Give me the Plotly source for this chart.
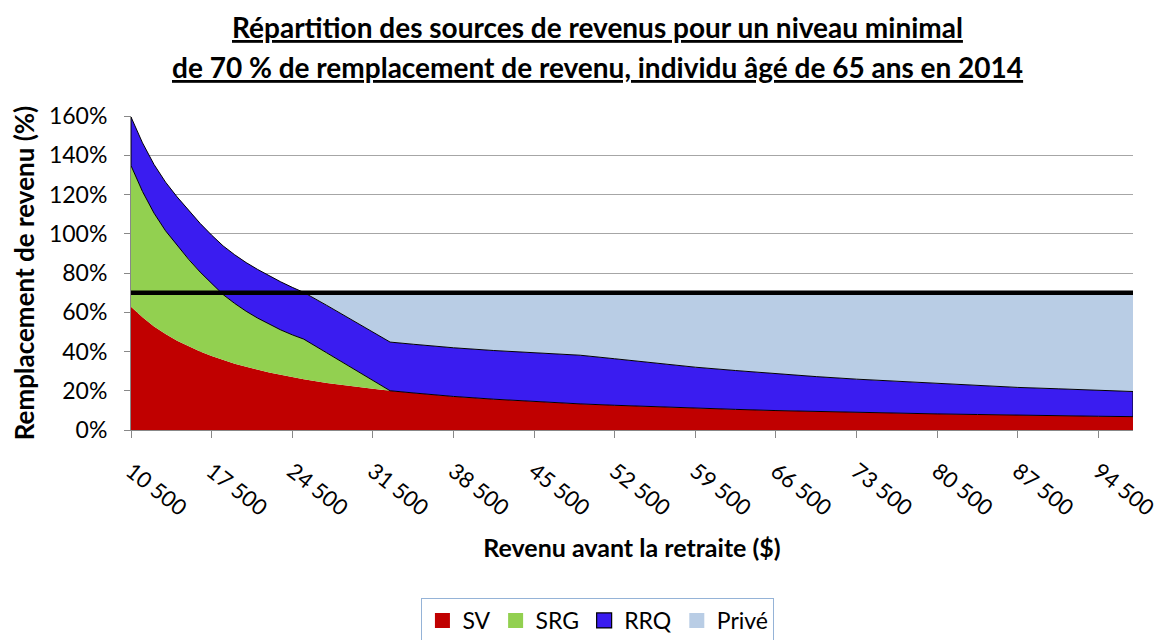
import plotly.graph_objects as go

# Revenu avant la retraite ($)
revenu = [10500, 11500, 12500, 13500, 14500, 15500, 16500, 17500, 18500, 19500,
          20500, 21500, 22500, 23500, 24500, 25500, 27500, 29500, 31500, 33000,
          35000, 38500, 42000, 45500, 49500, 52500, 56000, 59500, 63000, 66500,
          70000, 73500, 77000, 80500, 84000, 87500, 91000, 94500, 97500]

# Remplacement de revenu (%) par source
sv = [62.8, 57.4, 52.8, 48.9, 45.5, 42.6, 40.0, 37.7, 35.7, 33.8,
      32.2, 30.7, 29.3, 28.1, 26.9, 25.9, 24.0, 22.4, 21.0, 20.0,
      18.9, 17.1, 15.7, 14.5, 13.3, 12.6, 11.8, 11.1, 10.5, 9.9,
      9.4, 9.0, 8.6, 8.2, 7.9, 7.5, 7.3, 7.0, 6.8]
srg = [71.9, 64.1, 57.7, 52.6, 48.5, 44.4, 40.5, 36.8, 33.3, 30.7,
       28.3, 26.3, 24.5, 22.9, 21.6, 20.4, 15.3, 9.9, 4.3, 0.0,
       0.0, 0.0, 0.0, 0.0, 0.0, 0.0, 0.0, 0.0, 0.0, 0.0,
       0.0, 0.0, 0.0, 0.0, 0.0, 0.0, 0.0, 0.0, 0.0]
rrq = [24.8, 24.8, 24.8, 24.8, 24.8, 24.8, 24.8, 24.8, 24.8, 24.8,
       24.8, 24.8, 24.8, 24.5, 24.2, 23.8, 24.2, 24.5, 24.8, 24.8,
       24.8, 24.8, 24.8, 24.8, 24.8, 23.7, 22.2, 20.9, 19.8, 18.7,
       17.8, 16.9, 16.2, 15.5, 14.8, 14.2, 13.7, 13.2, 12.8]
prive = [0.0, 0.0, 0.0, 0.0, 0.0, 0.0, 0.0, 0.0, 0.0, 0.0,
         0.0, 0.0, 0.0, 0.0, 0.0, 0.0, 6.5, 13.2, 19.9, 25.2,
         26.3, 28.1, 29.5, 30.7, 31.9, 33.7, 36.0, 38.0, 39.7, 41.4,
         42.8, 44.1, 45.2, 46.3, 47.3, 48.3, 49.0, 49.8, 50.4]

seuil = 70  # niveau minimal de remplacement (%)

series_names = ["SV", "SRG", "RRQ", "Privé"]
series_colors = ["#C00000", "#92D050", "#3A1CF0", "#B9CDE5"]

x_tick_vals = [10500, 17500, 24500, 31500, 38500, 45500, 52500, 59500,
               66500, 73500, 80500, 87500, 94500]
x_tick_labels = ["10 500", "17 500", "24 500", "31 500", "38 500", "45 500",
                 "52 500", "59 500", "66 500", "73 500", "80 500", "87 500",
                 "94 500"]
y_tick_vals = [0, 20, 40, 60, 80, 100, 120, 140, 160]
y_tick_labels = ["0%", "20%", "40%", "60%", "80%", "100%", "120%", "140%", "160%"]

FONT = "Lato, 'Open Sans', sans-serif"

fig = go.Figure()

for name, vals, color in zip(series_names, [sv, srg, rrq, prive], series_colors):
    is_rrq = name == "RRQ"
    fig.add_trace(go.Scatter(
        x=revenu, y=vals, name=name, stackgroup="one", mode="lines",
        line=dict(color="#000000" if is_rrq else color, width=1 if is_rrq else 0),
        fillcolor=color, showlegend=False, hoverinfo="skip",
    ))

# bordure inférieure et latérale de la série RRQ
base_rrq = [a + b for a, b in zip(sv, srg)]
top_rrq = [a + b + c for a, b, c in zip(sv, srg, rrq)]
fig.add_trace(go.Scatter(
    x=[revenu[0]] + revenu + [revenu[-1]],
    y=[top_rrq[0]] + base_rrq + [top_rrq[-1]],
    mode="lines", line=dict(color="#000000", width=1),
    showlegend=False, hoverinfo="skip",
))

# ligne du seuil de 70 %
fig.add_trace(go.Scatter(
    x=[revenu[0], revenu[-1]], y=[seuil, seuil], mode="lines",
    line=dict(color="#000000", width=4.5), showlegend=False, hoverinfo="skip",
))

# entrées de légende (carrés)
for name, color in zip(series_names, series_colors):
    fig.add_trace(go.Scatter(
        x=[None], y=[None], name=name, mode="markers",
        marker=dict(symbol="square", size=15, color=color,
                    line=dict(color="#000000", width=1.2 if name == "RRQ" else 0)),
    ))

fig.update_layout(
    width=1162, height=640,
    paper_bgcolor="white", plot_bgcolor="white",
    margin=dict(l=123, r=37, t=108, b=218, autoexpand=False),
    font=dict(family=FONT, size=20, color="#000000"),
    showlegend=True,
    legend=dict(
        orientation="h", x=0.466, xanchor="center", y=-0.535, yanchor="top",
        bordercolor="#95B3D7", borderwidth=1, traceorder="normal",
        font=dict(family=FONT, size=23, color="#000000"),
        itemwidth=30, tracegroupgap=0,
    ),
    annotations=[
        dict(text="<b><u>Répartition des sources de revenus pour un niveau minimal</u></b>",
             xref="paper", yref="paper", x=0.466, y=1.0, yshift=89,
             xanchor="center", yanchor="middle", showarrow=False,
             font=dict(family=FONT, size=28, color="#000000")),
        dict(text="<b><u>de 70 % de remplacement de revenu, individu âgé de 65 ans en 2014</u></b>",
             xref="paper", yref="paper", x=0.466, y=1.0, yshift=49,
             xanchor="center", yanchor="middle", showarrow=False,
             font=dict(family=FONT, size=28, color="#000000")),
    ],
)

fig.update_xaxes(
    range=[revenu[0], revenu[-1]], automargin=False,
    tickvals=x_tick_vals, ticktext=x_tick_labels, tickangle=38,
    ticks="outside", ticklen=7, tickcolor="#888888",
    showline=True, linecolor="#888888", linewidth=1,
    showgrid=False, zeroline=False,
    tickfont=dict(family=FONT, size=22, color="#000000"),
    ticklabelstandoff=12,
    title=dict(text="<b>Revenu avant la retraite ($)</b>", standoff=19,
               font=dict(family=FONT, size=25, color="#000000")),
)
fig.update_yaxes(
    range=[0, 160], automargin=False,
    tickvals=y_tick_vals, ticktext=y_tick_labels,
    ticks="outside", ticklen=6, tickcolor="#888888",
    showline=True, linecolor="#888888", linewidth=1,
    showgrid=True, gridcolor="#A6A6A6", gridwidth=1, zeroline=False,
    tickfont=dict(family=FONT, size=23, color="#000000"),
    ticklabelstandoff=12,
    title=dict(text="<b>Remplacement de revenu (%)</b>", standoff=10,
               font=dict(family=FONT, size=26, color="#000000")),
)

fig.write_html("out.html")
